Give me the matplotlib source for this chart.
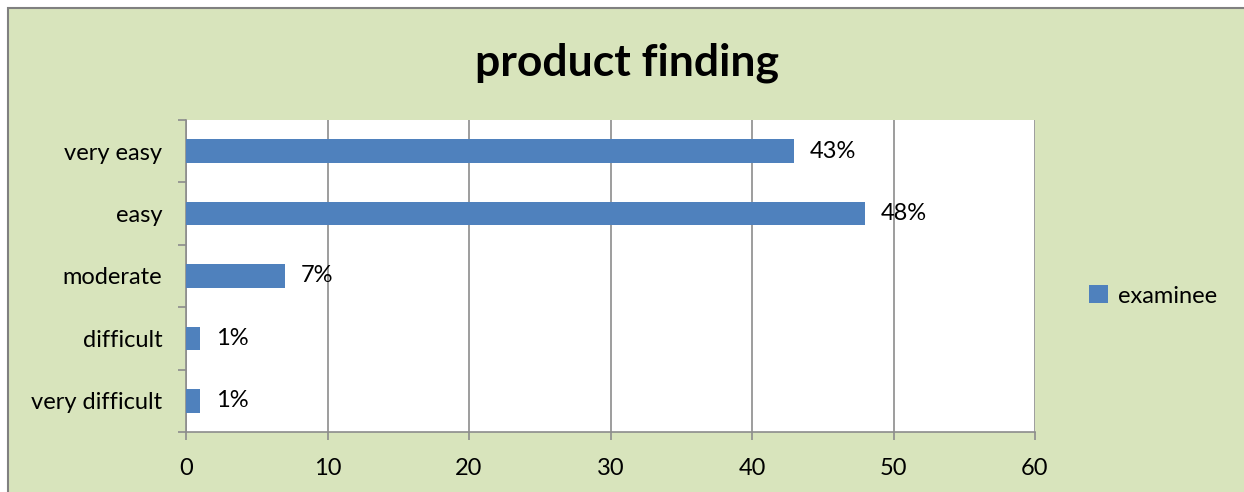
import numpy as np
import matplotlib.pyplot as plt
from matplotlib.patches import Rectangle

categories = ['very difficult', 'difficult', 'moderate', 'easy', 'very easy']
values = [1, 1, 7, 48, 43]
labels = ['1%', '1%', '7%', '48%', '43%']
xticks = [0, 10, 20, 30, 40, 50, 60]

bg = '#D8E4BC'
bar_color = '#4F81BD'
grid_color = '#8C8C8C'

plt.rcParams['font.family'] = ['Lato', 'DejaVu Sans']
fs = 17

W, H = 1244, 492
fig = plt.figure(figsize=(W / 100, H / 100), dpi=100)
fig.patch.set_facecolor('white')

# outer chart frame
frame = Rectangle((8 / W, -0.1), 1.1, (H - 8) / H + 0.1, transform=fig.transFigure,
                  facecolor=bg, edgecolor='#808080', linewidth=1.5, zorder=-1)
fig.patches.append(frame)

left, right, top, bottom = 186, 1035, 120, 432
ax = fig.add_axes([left / W, 1 - bottom / H, (right - left) / W, (bottom - top) / H])
ax.set_zorder(1)
ax.set_facecolor('white')

y = np.arange(len(categories))
ax.barh(y, values, height=0.38, color=bar_color, zorder=3, label='examinee')
for yi, v, lab in zip(y, values, labels):
    ax.text(v + 1.1, yi, lab, va='center', ha='left', fontsize=fs, zorder=4)

ax.set_xlim(0, 60)
ax.set_ylim(-0.5, len(categories) - 0.5)
ax.set_xticks(xticks)
ax.set_xticklabels([str(t) for t in xticks], fontsize=fs)
ax.set_yticks(y)
ax.set_yticklabels(categories, fontsize=fs)
ax.set_yticks(np.arange(-0.5, len(categories)), minor=True)
ax.tick_params(axis='y', which='major', length=0, pad=17)
ax.tick_params(axis='y', which='minor', length=6, color=grid_color, width=1.2)
ax.tick_params(axis='x', length=6, color=grid_color, width=1.2, pad=13)

ax.grid(axis='x', color=grid_color, linewidth=1.2, zorder=1)
for s in ['top', 'right']:
    ax.spines[s].set_visible(False)
for s in ['left', 'bottom']:
    ax.spines[s].set_color(grid_color)
    ax.spines[s].set_linewidth(1.2)

fig.text(627 / W, 1 - 63 / H, 'product finding', ha='center', va='center',
         fontsize=32, fontweight='bold')

handles, labs = ax.get_legend_handles_labels()
fig.legend(handles, labs, loc='center left', bbox_to_anchor=(1068 / W, 1 - 296 / H),
           frameon=False, fontsize=fs, handlelength=0.8, handleheight=0.8,
           handletextpad=0.4)

fig.savefig('out.png', dpi=100)
